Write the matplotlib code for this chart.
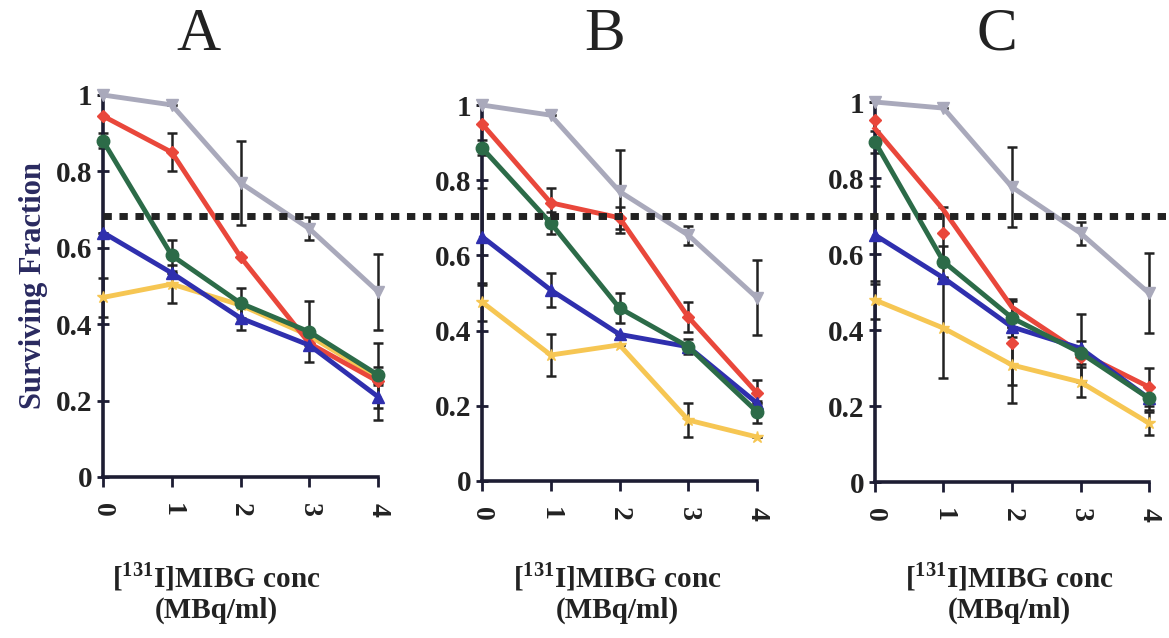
import matplotlib
matplotlib.use("Agg")
import matplotlib.pyplot as plt
from matplotlib.lines import Line2D
import numpy as np

conc = [0, 1, 2, 3, 4]
xtick_labels = ["0", "1", "2", "3", "4"]
yticks = [0, 0.2, 0.4, 0.6, 0.8, 1]
ytick_labels = ["0", "0.2", "0.4", "0.6", "0.8", "1"]
panel_titles = ["A", "B", "C"]
threshold = 0.70

# Panel A
grey_A = [1.00, 0.974, 0.77, 0.65, 0.485]
red_A = [0.945, 0.85, 0.576, 0.35, 0.25]
green_A = [0.88, 0.58, 0.455, 0.38, 0.267]
blue_A = [0.64, 0.534, 0.416, 0.345, 0.21]
yellow_A = [0.47, 0.505, 0.45, 0.37, 0.26]
grey_A_err = [0, 0, 0.11, 0.03, 0.10]
red_A_err = [0, 0.05, 0, 0, 0.10]
green_A_err = [0.02, 0.04, 0.04, 0.08, 0.02]
blue_A_err = [0, 0, 0.03, 0, 0.03]
yellow_A_err = [0.05, 0.05, 0, 0, 0]

# Panel B
grey_B = [1.00, 0.973, 0.77, 0.654, 0.487]
red_B = [0.95, 0.74, 0.70, 0.436, 0.234]
green_B = [0.886, 0.686, 0.46, 0.357, 0.184]
blue_B = [0.65, 0.508, 0.39, 0.357, 0.207]
yellow_B = [0.476, 0.335, 0.362, 0.162, 0.117]
grey_B_err = [0, 0, 0.11, 0.025, 0.10]
red_B_err = [0, 0.04, 0.03, 0.04, 0.035]
green_B_err = [0.02, 0.03, 0.04, 0.02, 0.03]
blue_B_err = [0.13, 0.045, 0, 0, 0]
yellow_B_err = [0.05, 0.055, 0, 0.045, 0]

# Panel C
grey_C = [1.00, 0.984, 0.776, 0.655, 0.497]
red_C = [0.93, 0.716, 0.46, 0.34, 0.25]
red_C_pts = [0.953, 0.655, 0.366, 0.33, 0.25]
green_C = [0.895, 0.58, 0.432, 0.34, 0.22]
blue_C = [0.65, 0.537, 0.408, 0.352, 0.22]
yellow_C = [0.479, 0.405, 0.308, 0.263, 0.155]
grey_C_err = [0, 0, 0.105, 0.03, 0.105]
red_C_err = [0, 0.07, 0.11, 0, 0.05]
green_C_err = [0.03, 0.04, 0.05, 0.03, 0.03]
blue_C_err = [0.13, 0, 0, 0.09, 0]
yellow_C_err = [0.05, 0.13, 0.10, 0.04, 0.03]

xlabel_text = r"[$^{\mathbf{131}}$I]MIBG conc" + "\n(MBq/ml)"
ylabel_text = "Surviving Fraction"

c_grey = "#a9a9bb"
c_red = "#e9473b"
c_green = "#2c6b48"
c_blue = "#2f2fae"
c_yellow = "#f6c653"
c_axis = "#1d1d33"
c_navy = "#2a2a60"

plt.rcParams["font.family"] = ["Liberation Serif", "DejaVu Serif"]
plt.rcParams["mathtext.fontset"] = "custom"
plt.rcParams["mathtext.rm"] = "Liberation Serif"
plt.rcParams["mathtext.bf"] = "Liberation Serif:bold"

fig = plt.figure(figsize=(11.69, 6.38), dpi=100)

axes_pos = [
    [0.0881, 0.2524, 0.2353, 0.5987],
    [0.4123, 0.2461, 0.2353, 0.5893],
    [0.7485, 0.2445, 0.2344, 0.5956],
]

panels = [
    dict(grey=(grey_A, grey_A_err), yellow=(yellow_A, yellow_A_err), red=(red_A, red_A_err),
         red_pts=None, blue=(blue_A, blue_A_err), green=(green_A, green_A_err)),
    dict(grey=(grey_B, grey_B_err), yellow=(yellow_B, yellow_B_err), red=(red_B, red_B_err),
         red_pts=None, blue=(blue_B, blue_B_err), green=(green_B, green_B_err)),
    dict(grey=(grey_C, grey_C_err), yellow=(yellow_C, yellow_C_err), red=(red_C, red_C_err),
         red_pts=red_C_pts, blue=(blue_C, blue_C_err), green=(green_C, green_C_err)),
]

styles = {
    "grey": dict(color=c_grey, marker="v", ms=9),
    "yellow": dict(color=c_yellow, marker="*", ms=9),
    "red": dict(color=c_red, marker="D", ms=6),
    "blue": dict(color=c_blue, marker="^", ms=8),
    "green": dict(color=c_green, marker="o", ms=9),
}

title_x = [0.170, 0.517, 0.853]
xlabel_x = [0.185, 0.528, 0.863]

for i, (pos, pdata) in enumerate(zip(axes_pos, panels)):
    ax = fig.add_axes(pos)
    for key in ["grey", "yellow", "red", "blue", "green"]:
        vals, errs = pdata[key]
        base = vals
        if key == "red" and pdata["red_pts"] is not None:
            base = pdata["red_pts"]
        ax.errorbar(conc, base, yerr=errs, fmt="none", ecolor="#222222",
                    elinewidth=1.8, capsize=3.5, capthick=1.8, zorder=2, clip_on=False)
    z = 3
    for key in ["grey", "yellow", "red", "blue", "green"]:
        vals, errs = pdata[key]
        st = styles[key]
        if key == "red" and pdata["red_pts"] is not None:
            ax.plot(conc, vals, color=st["color"], lw=3.5, zorder=z, clip_on=False)
            ax.plot(conc, pdata["red_pts"], ls="none", marker=st["marker"], ms=st["ms"],
                    color=st["color"], zorder=z + 0.5, clip_on=False)
        else:
            ax.plot(conc, vals, color=st["color"], lw=3.5, marker=st["marker"],
                    ms=st["ms"], zorder=z, clip_on=False)
        z += 1
    ax.set_xlim(0, 4)
    ax.set_ylim(0, 1)
    for s in ["top", "right"]:
        ax.spines[s].set_visible(False)
    for s in ["left", "bottom"]:
        ax.spines[s].set_linewidth(2.6)
        ax.spines[s].set_color(c_axis)
    ax.set_xticks(conc)
    ax.set_xticklabels(xtick_labels, rotation=-90, fontsize=20, fontweight="bold", color="#222222")
    ax.set_yticks(yticks)
    ax.set_yticklabels(ytick_labels, fontsize=21, fontweight="bold", color="#222222")
    ax.tick_params(axis="x", direction="out", length=7, width=2, color=c_axis, pad=12)
    ax.tick_params(axis="y", direction="inout", length=9, width=2, color=c_axis, pad=3)
    fig.text(title_x[i], 0.945, panel_titles[i], ha="center", va="center",
             fontsize=44, color="#222222")
    fig.text(xlabel_x[i], 0.072, xlabel_text, ha="center", va="center",
             fontsize=21, fontweight="bold", color="#222222", linespacing=1.2)
    if i == 0:
        ax.set_ylabel(ylabel_text, fontsize=22, fontweight="bold", color=c_navy, labelpad=6)

fig.add_artist(Line2D([0.088, 1.0], [0.6614, 0.6614], transform=fig.transFigure,
                      color="#222222", lw=5, linestyle=(0, (1.2, 1.1)), zorder=10))

fig.savefig("out.png", dpi=100)
